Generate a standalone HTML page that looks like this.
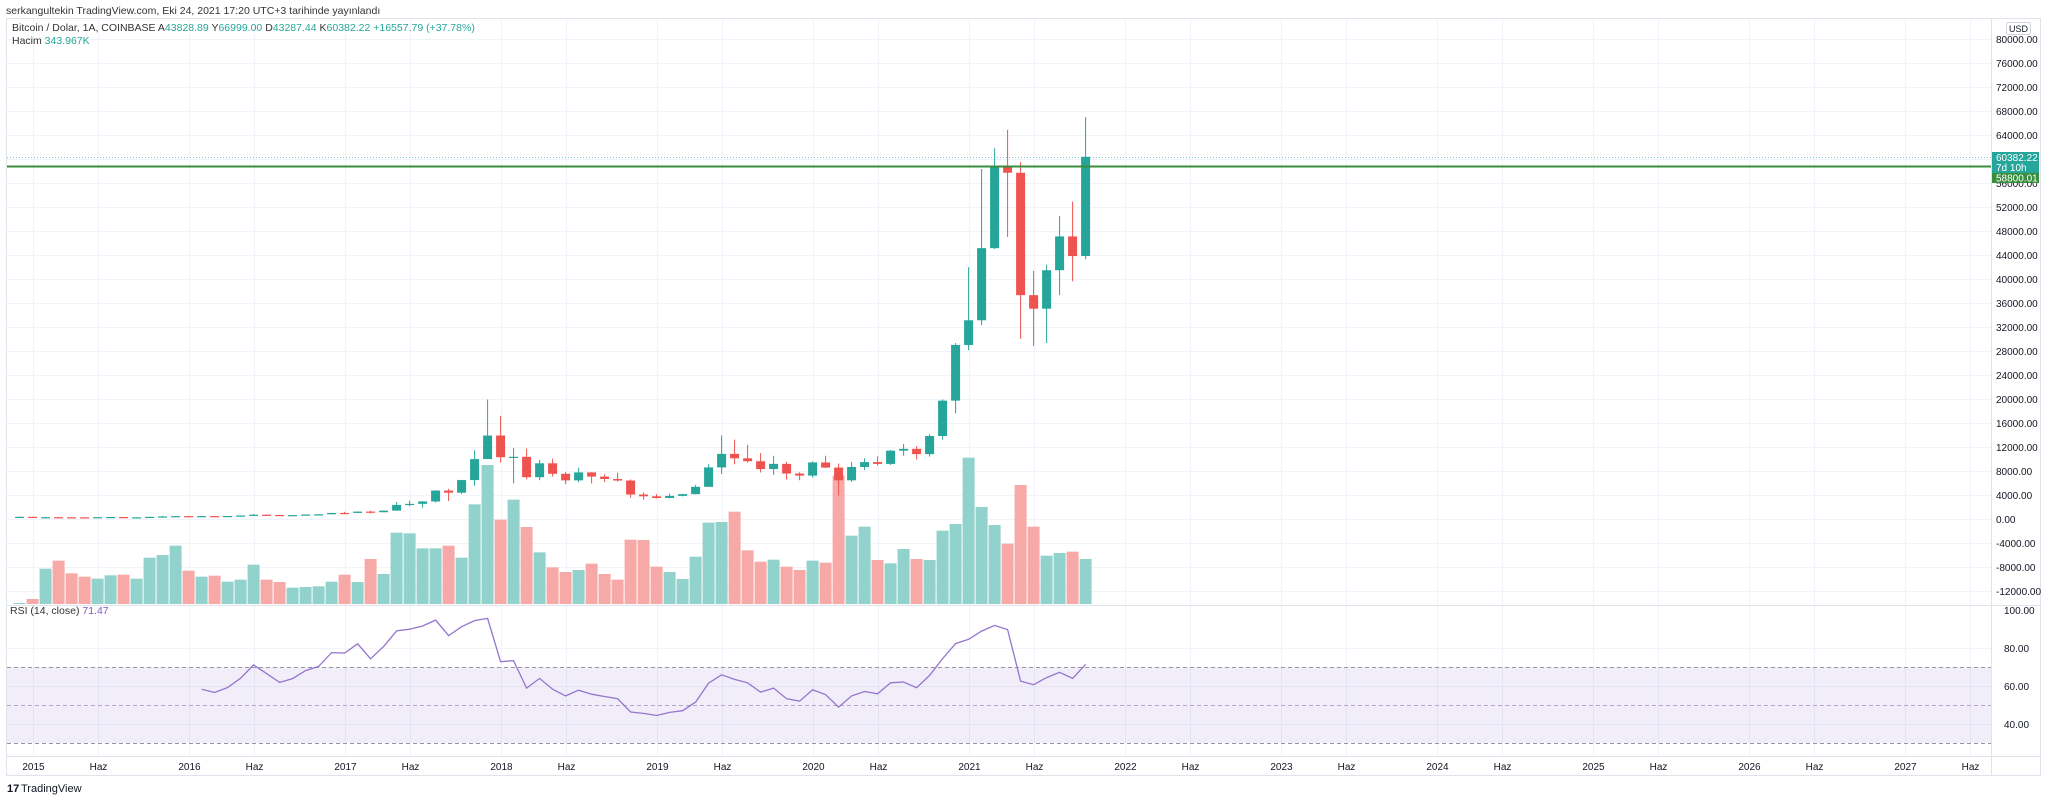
<!DOCTYPE html>
<html><head><meta charset="utf-8"><style>
html,body{margin:0;padding:0;background:#fff;width:2048px;height:799px;overflow:hidden}
svg{display:block;font-family:"Liberation Sans",sans-serif}
</style></head><body>
<svg id="chart" width="2048" height="799" viewBox="0 0 2048 799" xmlns="http://www.w3.org/2000/svg">
<text x="6" y="14" font-size="10.5" fill="#333">serkangultekin TradingView.com, Eki 24, 2021 17:20 UTC+3 tarihinde yayınlandı</text>
<rect x="6.5" y="18.5" width="2034" height="757" fill="none" stroke="#e0e3eb"/>
<g id="grid"></g>
<rect x="7" y="667" width="1984" height="76" fill="#7e57c2" fill-opacity="0.1"/>
<g id="rsi-levels"></g>
<g id="volume"></g>
<g id="candles"></g>
<line x1="7" x2="1991" y1="157.5" y2="157.5" stroke="#26a69a" stroke-width="1" stroke-dasharray="1,2" opacity="0.6"/>
<line x1="7" x2="1991" y1="166.5" y2="166.5" stroke="#388e3c" stroke-width="2"/>
<g id="rsi"></g>
<line x1="7" x2="2040" y1="605.5" y2="605.5" stroke="#e0e3eb"/>
<line x1="7" x2="2040" y1="756.5" y2="756.5" stroke="#e0e3eb"/>
<line x1="1991.5" x2="1991.5" y1="19" y2="775" stroke="#e0e3eb"/>
<g id="yaxis"></g>
<g id="xaxis"></g>
<rect x="2006.5" y="22.5" width="24" height="12" rx="2" fill="#fff" stroke="#d1d4dc"/>
<text x="2018.5" y="32" font-size="9" fill="#131722" text-anchor="middle">USD</text>
<rect x="1992" y="152" width="47" height="21" fill="#26a69a"/>
<text x="1996" y="161" font-size="10" fill="#fff">60382.22</text>
<text x="1996" y="171" font-size="10" fill="#fff">7d 10h</text>
<rect x="1992" y="173" width="47" height="10" fill="#388e3c"/>
<text x="1996" y="181.5" font-size="10" fill="#fff">58800.01</text>
<g font-size="10.5">
<text x="12" y="31" fill="#333">Bitcoin / Dolar, 1A, COINBASE  <tspan fill="#333">A</tspan><tspan fill="#26a69a">43828.89</tspan>  <tspan fill="#333">Y</tspan><tspan fill="#26a69a">66999.00</tspan>  <tspan fill="#333">D</tspan><tspan fill="#26a69a">43287.44</tspan>  <tspan fill="#333">K</tspan><tspan fill="#26a69a">60382.22</tspan>  <tspan fill="#26a69a">+16557.79 (+37.78%)</tspan></text>
<text x="12" y="44" fill="#333">Hacim  <tspan fill="#26a69a">343.967K</tspan></text>
<text x="10" y="614" fill="#333">RSI (14, close)  <tspan fill="#7e57c2">71.47</tspan></text>
</g>
<g>
<text x="7" y="792" font-size="11" font-weight="bold" fill="#131722">17</text>
<text x="21" y="792" font-size="11" fill="#131722">TradingView</text>
</g>
</svg>
<script>
const opens=[300,320,217,254,244,236,230,263,284,230,236,314,377,430,368,437,416,448,531,673,624,575,609,700,742,963,970,1190,1080,1350,2300,2480,2875,4700,4340,6450,9950,13880,10265,10330,6925,9245,7495,6400,7730,7030,6630,6370,4040,3740,3460,3810,4100,5320,8560,10820,10080,9590,8290,9150,7540,7190,9390,8530,6410,8630,9450,9140,11350,11660,10780,13800,19700,28990,33110,45140,58800,57720,37300,35040,41460,47100,43828.89];
const highs=[380,320,300,300,260,250,270,315,285,245,330,500,470,460,445,440,470,550,780,700,630,620,740,760,975,1150,1210,1350,1350,2800,3000,2950,4750,5000,6500,11400,19890,17170,11800,11700,9800,10000,7780,8500,7750,7400,7700,6560,4400,4100,4200,4140,5640,9100,13880,13200,12330,10950,10500,9500,7750,9580,10500,9200,9470,10070,10400,11450,12480,12100,14100,19900,29300,41950,58350,61800,64900,59500,41330,42400,50500,52900,66999];
const lows=[300,170,210,240,215,226,220,250,200,225,235,300,350,350,360,405,410,440,520,600,470,585,600,680,740,750,920,890,1080,1350,2100,1850,2700,2950,4100,5500,10400,9400,5900,6600,6430,7060,5750,6100,5880,6100,6200,3500,3150,3370,3400,3730,4040,5300,7450,9100,9350,7710,7300,6520,6420,6860,8450,3850,6150,8100,8900,8970,10530,9880,10360,13200,17600,28130,32300,45000,47000,30000,28800,29300,37300,39600,43287.44];
const closes=[320,217,254,244,236,230,263,284,230,236,314,377,430,368,437,416,448,531,673,624,575,609,700,742,963,960,1190,1080,1350,2300,2480,2875,4700,4340,6450,9950,13880,10265,10330,6925,9245,7495,6400,7730,7030,6630,6370,4040,3740,3460,3810,4100,5320,8560,10820,10080,9590,8290,9150,7540,7190,9390,8530,6410,8630,9450,9140,11350,11660,10780,13800,19700,28990,33110,45140,58800,57720,37300,35040,41460,47100,43820,60382.22];
const volumes=[3,15,106,130,92,82,76,86,88,76,139,147,175,100,82,85,67,73,118,73,66,49,51,53,67,88,66,135,90,214,212,167,167,175,139,299,417,253,313,231,155,110,96,102,121,90,73,193,192,112,96,75,142,244,246,277,161,127,133,112,102,130,124,385,205,232,132,122,165,135,132,220,240,439,291,237,181,357,232,145,153,157,135];
const rsiStart=14;
const rsiValues=[58.3,56.6,59.2,64.1,71.1,66.5,61.9,63.9,68.1,70.3,77.6,77.3,82.2,74.3,80.8,89.0,89.9,91.6,94.7,86.5,91.2,94.4,95.6,72.8,73.3,58.9,64.0,58.3,54.8,57.8,55.7,54.5,53.3,46.3,45.6,44.5,46.1,47.0,51.5,61.5,65.9,63.5,61.7,56.8,58.9,53.3,52.0,58.0,55.4,48.9,54.8,57.1,55.9,61.7,62.1,59.1,65.6,74.4,82.3,84.6,88.9,91.9,89.7,62.6,60.7,64.4,67.2,64.0,71.4];
const priceTicks=[80000,76000,72000,68000,64000,60000,56000,52000,48000,44000,40000,36000,32000,28000,24000,20000,16000,12000,8000,4000,0,-4000,-8000,-12000];
const rsiTicks=[100,80,60,40];
const yearLabels=["2015","2016","2017","2018","2019","2020","2021","2022","2023","2024","2025","2026","2027"];

const NS="http://www.w3.org/2000/svg";
function mk(tag,attrs,parent){const e=document.createElementNS(NS,tag);for(const k in attrs)e.setAttribute(k,attrs[k]);parent.appendChild(e);return e;}
const xOf=i=>19.6+13.0*i;
const yP=v=>39.2+(80000-v)*0.005994;
const volBase=604, volScale=1/3;
const yR=v=>743-(v-30)*1.9;
const G=id=>document.getElementById(id);

priceTicks.forEach(t=>{
  const y=Math.round(yP(t))+0.5;
  const l=mk('line',{x1:7,x2:1991,y1:y,y2:y,stroke:'#f0f3fa'},G('grid'));
  
  
  const tx=mk('text',{x:1996,y:y+3.5,'font-size':10,fill:'#131722'},G('yaxis'));
  
  
  tx.textContent=t.toFixed(2);
});
rsiTicks.forEach(t=>{
  const y=Math.round(yR(t))+0.5;
  if(t<100){const l=mk('line',{x1:7,x2:1991,y1:y,y2:y,stroke:'#f0f3fa'},G('grid'));
  
  }
  const tx=mk('text',{x:2004,y:y+3.5,'font-size':10,fill:'#131722'},G('yaxis'));
  
  
  tx.textContent=t.toFixed(2);
});
[70,50,30].forEach(t=>{
  const y=Math.round(yR(t))+0.5;
  const l=mk('line',{x1:7,x2:1991,y1:y,y2:y,stroke:t===50?'#b2a6cc':'#9598a1','stroke-dasharray':'4,3'},G('rsi-levels'));
  
  
});
yearLabels.forEach((lab,k)=>{
  [[lab,1+12*k],["Haz",6+12*k]].forEach(([s,i])=>{
    const x=Math.round(xOf(i))+0.5;
    const l=mk('line',{x1:x,x2:x,y1:19,y2:756,stroke:'#f0f3fa'},G('grid'));
    
    
    const tx=mk('text',{x:x,y:770,'font-size':10,fill:'#131722','text-anchor':'middle'},G('xaxis'));
    
    
    tx.textContent=s;
  });
});
volumes.forEach((v,i)=>{
  const up=closes[i]>=opens[i];
  const h=v*volScale;
  const r=mk('rect',{x:xOf(i)-6,y:volBase-h,width:12,height:h,fill:up?'#92d2cc':'#f7a9a7'},G('volume'));
  
  
});
opens.forEach((o,i)=>{
  const c=closes[i],up=c>=o,col=up?'#26a69a':'#ef5350',x=xOf(i);
  const g=mk('g',{},G('candles'));
  
  
  mk('line',{x1:x,x2:x,y1:yP(highs[i]),y2:yP(lows[i]),stroke:col,'stroke-width':1},g);
  const t=yP(Math.max(o,c)),b=yP(Math.min(o,c));
  mk('rect',{x:x-4.5,y:t,width:9,height:Math.max(1.2,b-t),fill:col},g);
});
const pts=rsiValues.map((v,k)=>xOf(rsiStart+k).toFixed(1)+','+yR(v).toFixed(1)).join(' ');
const pl=mk('polyline',{points:pts,fill:'none',stroke:'#9575cd','stroke-width':1.3},G('rsi'));


</script>
</body></html>
